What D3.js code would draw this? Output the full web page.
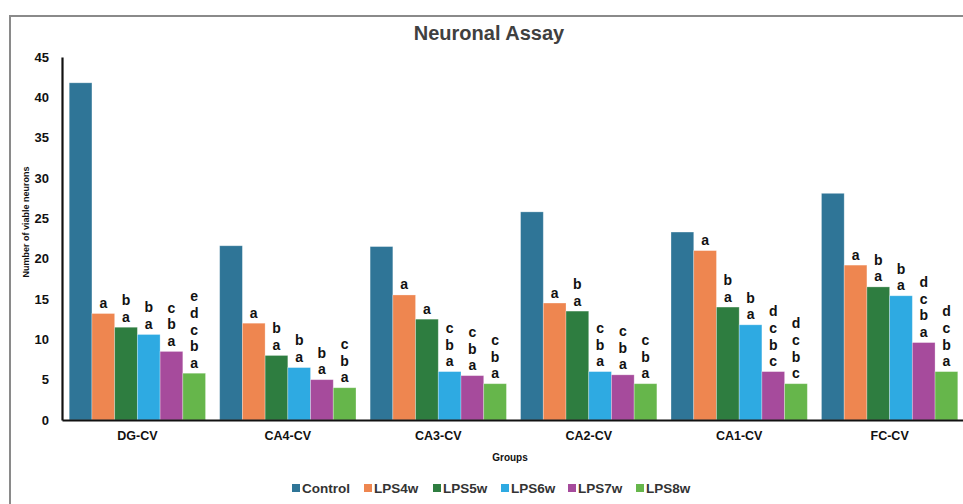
<!DOCTYPE html>
<html>
<head>
<meta charset="utf-8">
<script src="https://cdn.jsdelivr.net/npm/d3@7"></script>
<style>
  body { margin: 0; background: #fff; }
  text { font-family: Arial, "Liberation Sans", sans-serif; font-weight: bold; }
</style>
</head>
<body>
<div id="chart"></div>
<script>
////////////////// Data ////////////////////
var groups = ["DG-CV", "CA4-CV", "CA3-CV", "CA2-CV", "CA1-CV", "FC-CV"];
var seriesNames = ["Control", "LPS4w", "LPS5w", "LPS6w", "LPS7w", "LPS8w"];
var control = [41.8, 21.6, 21.5, 25.8, 23.3, 28.1];
var lps4w = [13.2, 12.0, 15.5, 14.5, 21.0, 19.2];
var lps5w = [11.5, 8.0, 12.5, 13.5, 14.0, 16.5];
var lps6w = [10.6, 6.5, 6.0, 6.0, 11.8, 15.4];
var lps7w = [8.5, 5.0, 5.5, 5.6, 6.0, 9.6];
var lps8w = [5.8, 4.0, 4.5, 4.5, 4.5, 6.0];
var yTicks = [0, 5, 10, 15, 20, 25, 30, 35, 40, 45];

// significance letters, stacked top to bottom, per series per group
var letters4w = [["a"], ["a"], ["a"], ["a"], ["a"], ["a"]];
var letters5w = [["b", "a"], ["b", "a"], ["a"], ["b", "a"], ["b", "a"], ["b", "a"]];
var letters6w = [["b", "a"], ["b", "a"], ["c", "b", "a"], ["c", "b", "a"], ["b", "a"], ["b", "a"]];
var letters7w = [["c", "b", "a"], ["b", "a"], ["c", "b", "a"], ["c", "b", "a"], ["d", "c", "b", "c"], ["d", "c", "b", "a"]];
var letters8w = [["e", "d", "c", "b", "a"], ["c", "b", "a"], ["c", "b", "a"], ["c", "b", "a"], ["d", "c", "b", "c"], ["d", "c", "b", "a"]];

var colors = ["#2f7597", "#ee8650", "#2e7d40", "#2eaae2", "#a64b9c", "#66b64b"];

var seriesValues = [control, lps4w, lps5w, lps6w, lps7w, lps8w];
var seriesLetters = [null, letters4w, letters5w, letters6w, letters7w, letters8w];

////////////////// Chart Parameters ////////////////////
var svgWidth = 963;
var svgHeight = 504;
var margin = { top: 57, right: 0, bottom: 84, left: 62 };
var height = svgHeight - margin.top - margin.bottom;

var svg = d3.select("#chart").append("svg")
  .attr("width", svgWidth)
  .attr("height", svgHeight);

// frame
svg.append("path")
  .attr("d", "M10,504 V16 H963")
  .attr("fill", "none")
  .attr("stroke", "#8a8a8a")
  .attr("stroke-width", 2);

svg.append("text")
  .attr("x", 489)
  .attr("y", 40)
  .attr("text-anchor", "middle")
  .attr("font-size", 20)
  .attr("fill", "#404040")
  .text("Neuronal Assay");

var chartGroup = svg.append("g")
  .attr("transform", `translate(${margin.left}, ${margin.top})`);

////////// Scales //////////
var x0 = d3.scaleBand()
  .domain(groups)
  .range([0, 903])
  .paddingInner(0.094)
  .paddingOuter(0.048);

var x1 = d3.scaleBand()
  .domain(seriesNames)
  .range([0, x0.bandwidth()]);

var y = d3.scaleLinear()
  .domain([0, 45])
  .range([height, 0]);

////////// Bars //////////
var rows = [];
groups.forEach(function (g, gi) {
  seriesNames.forEach(function (s, si) {
    rows.push({ group: g, series: s, si: si, value: seriesValues[si][gi],
      letters: seriesLetters[si] ? seriesLetters[si][gi] : [] });
  });
});

chartGroup.selectAll("rect.bar")
  .data(rows)
  .enter()
  .append("rect")
  .attr("class", "bar")
  .attr("x", d => x0(d.group) + x1(d.series))
  .attr("y", d => y(d.value))
  .attr("width", x1.bandwidth())
  .attr("height", d => height - y(d.value))
  .attr("fill", d => colors[d.si])
  .attr("stroke", "#ffffff")
  .attr("stroke-opacity", 0.35)
  .attr("stroke-width", 0.8);

////////// Letters //////////
var lineStep = 16.6;
rows.forEach(function (d) {
  var n = d.letters.length;
  d.letters.forEach(function (ch, k) {
    chartGroup.append("text")
      .attr("x", x0(d.group) + x1(d.series) + x1.bandwidth() / 2)
      .attr("y", y(d.value) - 5.5 - (n - 1 - k) * lineStep)
      .attr("text-anchor", "middle")
      .attr("font-size", 14)
      .attr("fill", "#111")
      .text(ch);
  });
});

////////// Axes //////////
var yAxis = d3.axisLeft(y).tickValues(yTicks).tickSize(0).tickPadding(13);
var xAxis = d3.axisBottom(x0).tickSize(0).tickPadding(11);

var yG = chartGroup.append("g").call(yAxis);
yG.select(".domain").attr("stroke", "#111").attr("stroke-width", 2.2);
yG.selectAll("text").attr("font-size", 13).attr("fill", "#111")
  .attr("font-family", "Arial, 'Liberation Sans', sans-serif").attr("font-weight", "bold");

var xG = chartGroup.append("g")
  .attr("transform", `translate(0, ${height})`)
  .call(xAxis);
xG.select(".domain").attr("stroke", "#111").attr("stroke-width", 2.2);
xG.selectAll("text").attr("font-size", 12.5).attr("fill", "#111")
  .attr("font-family", "Arial, 'Liberation Sans', sans-serif").attr("font-weight", "bold");

////////// Axis titles //////////
svg.append("text")
  .attr("transform", "translate(29, 222) rotate(-90)")
  .attr("text-anchor", "middle")
  .attr("font-size", 9)
  .attr("fill", "#111")
  .text("Number of viable neurons");

svg.append("text")
  .attr("x", 510)
  .attr("y", 461)
  .attr("text-anchor", "middle")
  .attr("font-size", 10)
  .attr("fill", "#111")
  .text("Groups");

////////// Legend //////////
var legendX = [292, 364, 433, 501, 568, 636];
var legend = svg.selectAll("g.legend")
  .data(seriesNames)
  .enter()
  .append("g")
  .attr("class", "legend")
  .attr("transform", (d, i) => `translate(${legendX[i]}, 488)`);

legend.append("rect")
  .attr("x", 0)
  .attr("y", -4)
  .attr("width", 8)
  .attr("height", 8)
  .attr("fill", (d, i) => colors[i]);

legend.append("text")
  .attr("x", 10)
  .attr("y", 5)
  .attr("font-size", 13.5)
  .attr("fill", "#333")
  .text(d => d);
</script>
</body>
</html>
